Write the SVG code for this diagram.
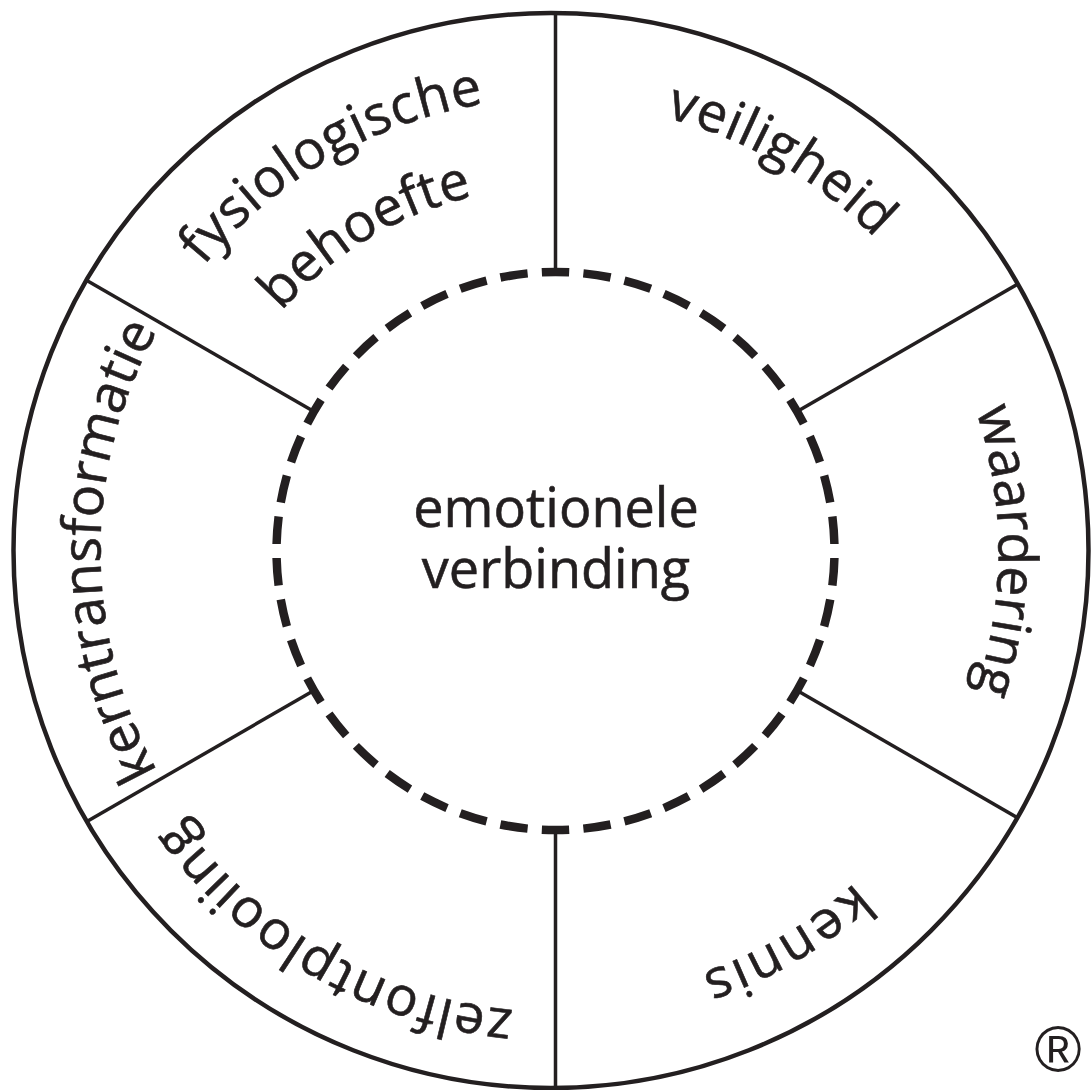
<svg xmlns="http://www.w3.org/2000/svg" width="1091" height="1090" viewBox="0 0 1091 1090">
<style>
  .lbl { font-family: "Open Sans", "Noto Sans", sans-serif; font-size: 54px; fill: #231f20; stroke: #231f20; stroke-width: 0.6; }
  .div { stroke: #231f20; stroke-width: 3.5; fill: none; }
  .reg { font-family: "Liberation Sans", Arial, sans-serif; font-size: 64px; fill: #231f20; }
</style>
<defs>
  <path id="p-veiligheid" d="M165.8,326 A450,450 0 0 1 945.2,776"/>
  <path id="p-fysio" d="M158.9,780 A458,458 0 0 1 952.1,322"/>
  <path id="p-behoefte" d="M243.5,738.5 A364,364 0 0 1 867.5,363.5"/>
  <path id="p-waardering" d="M555.5,108 A443,443 0 0 1 555.5,994"/>
  <path id="p-kennis" d="M940.9,325.0 A445,445 0 0 1 170.1,777.0"/>
  <path id="p-zelf" d="M955.0,781.0 A460,460 0 0 1 156.0,321.0"/>
  <path id="p-kern" d="M555.5,1006 A455,455 0 0 1 555.5,96"/>
</defs>
<rect width="1091" height="1090" fill="#ffffff"/>
<g id="outer-ring">
  <circle cx="551" cy="550.5" r="537.5" fill="none" stroke="#231f20" stroke-width="4.5"/>
</g>
<g id="connectors">
  <line class="div" x1="555.5" y1="13" x2="555.5" y2="272"/>
  <line class="div" x1="1017.8" y1="284.1" x2="797.1" y2="411.5"/>
  <line class="div" x1="1017.4" y1="817.7" x2="797.1" y2="690.5"/>
  <line class="div" x1="555.5" y1="1088" x2="555.5" y2="830"/>
  <line class="div" x1="86.9" y1="821.6" x2="313.9" y2="690.5"/>
  <line class="div" x1="86.4" y1="280.2" x2="313.9" y2="411.5"/>
</g>
<g id="center">
  <path d="M555.5,272 A279,279 0 0 1 555.5,830 A279,279 0 0 1 555.5,272" fill="none" stroke="#231f20" stroke-width="8.5" pathLength="42" stroke-dasharray="0.66 0.34" stroke-dashoffset="0.33"/>
  <text class="lbl" x="556" y="527" text-anchor="middle" font-size="53">emotionele</text>
  <text class="lbl" x="556" y="588" text-anchor="middle" font-size="53">verbinding</text>
</g>
<g id="fysiologische-behoefte">
  <text class="lbl" letter-spacing="0.8"><textPath href="#p-fysio" startOffset="50%" text-anchor="middle">fysiologische</textPath></text>
  <text class="lbl"><textPath href="#p-behoefte" startOffset="50%" text-anchor="middle">behoefte</textPath></text>
</g>
<g id="veiligheid">
  <text class="lbl" letter-spacing="0.8"><textPath href="#p-veiligheid" startOffset="50%" text-anchor="middle">veiligheid</textPath></text>
</g>
<g id="waardering">
  <text class="lbl"><textPath href="#p-waardering" startOffset="50%" text-anchor="middle">waardering</textPath></text>
</g>
<g id="kennis">
  <text class="lbl" letter-spacing="3"><textPath href="#p-kennis" startOffset="50%" text-anchor="middle">kennis</textPath></text>
</g>
<g id="zelfontplooiing">
  <text class="lbl" letter-spacing="1.6"><textPath href="#p-zelf" startOffset="50%" text-anchor="middle">zelfontplooiing</textPath></text>
</g>
<g id="kerntransformatie">
  <text class="lbl"><textPath href="#p-kern" startOffset="50%" text-anchor="middle">kerntransformatie</textPath></text>
</g>
<g id="registered">
  <text class="reg" x="1058" y="1071" text-anchor="middle">®</text>
</g>
</svg>
